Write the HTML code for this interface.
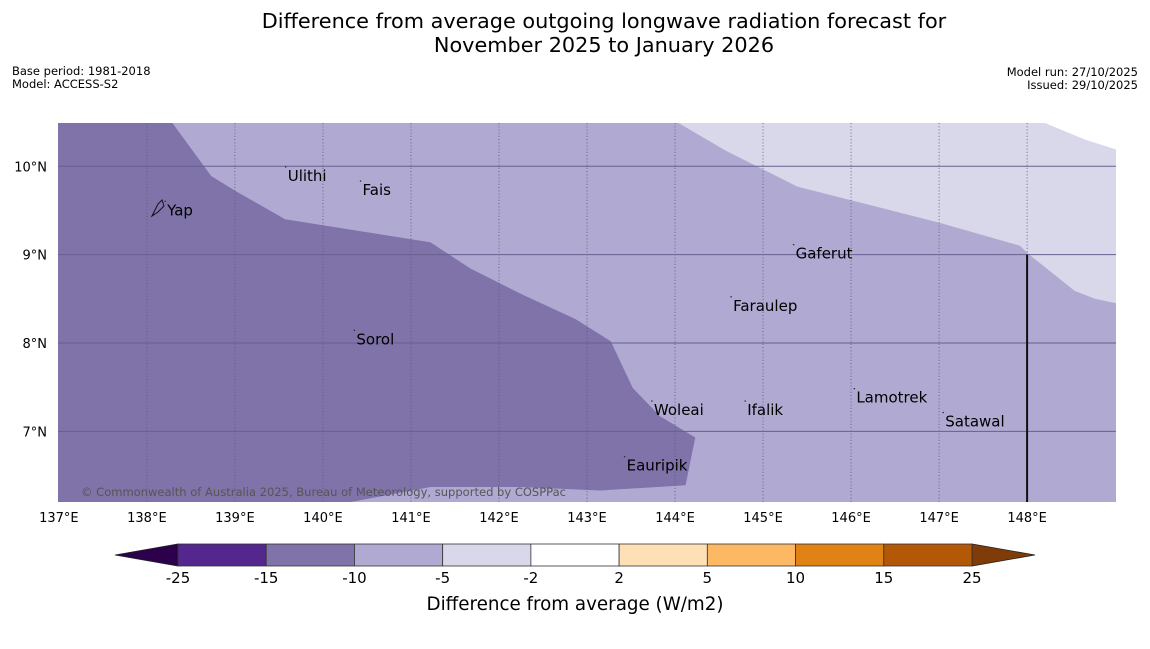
<!DOCTYPE html>
<html><head><meta charset="utf-8"><style>
body{margin:0;background:#fff;font-family:"Liberation Sans","DejaVu Sans",sans-serif;}
svg text{font-family:"DejaVu Sans","Liberation Sans",sans-serif;}
</style></head><body>
<svg id="chart" width="1150" height="644" viewBox="0 0 1150 644" xmlns="http://www.w3.org/2000/svg">
<text x="604" y="28" font-size="20.8" text-anchor="middle">Difference from average outgoing longwave radiation forecast for</text>
<text x="604" y="52" font-size="20.8" text-anchor="middle">November 2025 to January 2026</text>
<text x="12" y="75" font-size="11.5">Base period: 1981-2018</text>
<text x="12" y="88" font-size="11.5">Model: ACCESS-S2</text>
<text x="1138" y="76" font-size="11.5" text-anchor="end">Model run: 27/10/2025</text>
<text x="1138" y="89" font-size="11.5" text-anchor="end">Issued: 29/10/2025</text>
<g id="map"></g>
<g id="cbar"></g>
<text x="575" y="610" font-size="18.3" text-anchor="middle">Difference from average (W/m2)</text>
</svg>
<script>
const NS="http://www.w3.org/2000/svg";
const lonTicks=[137,138,139,140,141,142,143,144,145,146,147,148];
const latTicks=[10,9,8,7];
const darkLon=[136.99,138.29,138.73,138.99,139.57,141.22,141.68,142.24,142.87,143.27,143.52,143.83,144.23,144.12,143.15,142.24,141.22,140.32,136.99];
const darkLat=[10.49,10.49,9.89,9.73,9.40,9.14,8.84,8.56,8.27,8.02,7.49,7.17,6.93,6.39,6.33,6.37,6.37,6.2,6.2];
const lightLon=[144.04,144.57,145.39,147.01,147.92,148.0,148.54,148.77,149.01,149.01,148.66,148.2];
const lightLat=[10.49,10.18,9.77,9.36,9.1,9.02,8.59,8.5,8.45,10.19,10.3,10.49];
const noDataLon=[148.2,148.66,149.01,149.01];
const noDataLat=[10.49,10.3,10.19,10.49];
const places=["Ulithi","Fais","Yap","Gaferut","Faraulep","Sorol","Lamotrek","Woleai","Ifalik","Satawal","Eauripik"];
const placeLon=[139.6,140.45,138.23,145.37,144.66,140.38,146.06,143.76,144.82,147.07,143.45];
const placeLat=[9.88,9.72,9.49,9.0,8.41,8.03,7.37,7.23,7.23,7.1,6.6];
const cbLevels=[-25,-15,-10,-5,-2,2,5,10,15,25];
const cbColors=["#54278f","#7f73aa","#b0a9d1","#d8d8ea","#ffffff","#fee0b6","#fdb863","#e08214","#b35806"];
const x0=58,x1=1116,y0=123,y1=502;
const lonMin=136.99,lonMax=149.01,latMax=10.49,latMin=6.2;
const X=l=>x0+(l-lonMin)/(lonMax-lonMin)*(x1-x0);
const Y=l=>y0+(latMax-l)/(latMax-latMin)*(y1-y0);
const map=document.getElementById('map');
function el(t,a,p){const e=document.createElementNS(NS,t);for(const k in a)e.setAttribute(k,a[k]);(p||map).appendChild(e);return e;}
let bg=el('rect',{x:x0,y:y0,width:x1-x0,height:y1-y0,fill:'#b0a9d1'});


let pd=el('polygon',{points:darkLon.map((l,i)=>X(l)+','+Y(darkLat[i])).join(' '),fill:'#7f73aa'});


let pl=el('polygon',{points:lightLon.map((l,i)=>X(l)+','+Y(lightLat[i])).join(' '),fill:'#d8d8ea'});


let pn=el('polygon',{points:noDataLon.map((l,i)=>X(l)+','+Y(noDataLat[i])).join(' '),fill:'#ffffff'});


lonTicks.forEach(l=>{
 if(l>lonMin+0.1){let g=el('line',{x1:X(l),x2:X(l),y1:y0,y2:y1,stroke:'#55557a','stroke-width':0.7,'stroke-dasharray':'1.2,2'});
 
 }
 let t=el('text',{x:X(l),y:522,'font-size':13,'text-anchor':'middle'});t.textContent=l+'°E';
 
 
});
latTicks.forEach(l=>{
 let g=el('line',{x1:x0,x2:x1,y1:Y(l),y2:Y(l),stroke:'#675f8f','stroke-width':1});
 
 
 let t=el('text',{x:47,y:Y(l)+5,'font-size':13,'text-anchor':'end'});t.textContent=l+'°N';
 
 
});
let vl=el('line',{x1:X(148),x2:X(148),y1:Y(9),y2:y1,stroke:'#111','stroke-width':2});


let yap=el('path',{d:'M152 216 L158 204 L162 200 L164 206 L158 212 Z',fill:'none',stroke:'#111','stroke-width':1});


places.forEach((p,i)=>{
 let d=el('circle',{cx:X(placeLon[i])-2,cy:Y(placeLat[i])-10,r:0.8,fill:'#333'});
 
 
 let t=el('text',{x:X(placeLon[i]),y:Y(placeLat[i])+4,'font-size':15});t.textContent=p;
 
 
});
let cp=el('text',{x:81,y:496,'font-size':11.5,fill:'#555','textLength':485});cp.textContent='© Commonwealth of Australia 2025, Bureau of Meteorology, supported by COSPPac';


const cb=document.getElementById('cbar');
const cx0=178,cx1=972,cy0=544,cy1=566,n=cbColors.length;
const CX=i=>cx0+i*(cx1-cx0)/n;
let lt=el('polygon',{points:`115,555 ${cx0},${cy0} ${cx0},${cy1}`,fill:'#2d004b',stroke:'#222','stroke-width':0.8},cb);


let rt=el('polygon',{points:`1035,555 ${cx1},${cy0} ${cx1},${cy1}`,fill:'#7f3b08',stroke:'#222','stroke-width':0.8},cb);


cbColors.forEach((c,i)=>{
 let r=el('rect',{x:CX(i),y:cy0,width:CX(i+1)-CX(i),height:cy1-cy0,fill:c,stroke:'#333','stroke-width':0.8},cb);
 
 
});
cbLevels.forEach((v,i)=>{
 let t=el('text',{x:CX(i),y:583,'font-size':15,'text-anchor':'middle'},cb);t.textContent=v;
 
 
});
</script>
</body></html>
